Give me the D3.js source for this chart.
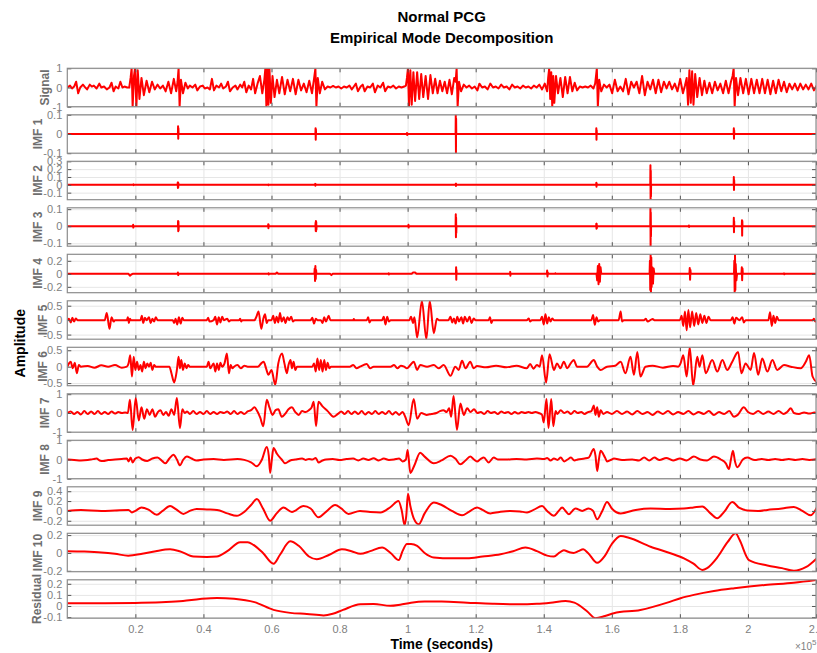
<!DOCTYPE html>
<html>
<head>
<meta charset="utf-8">
<script src="https://cdn.jsdelivr.net/npm/d3@7"></script>
<style>
  body { margin: 0; background: #fff; }
  svg { display: block; font-family: "Liberation Sans", Arial, Helvetica, sans-serif; }
</style>
</head>
<body>
<svg id="chart" width="817" height="653"></svg>
<script>
// time values are in units of 1e5 samples
const signalPts = [
  [0.000,0.0],[0.008,0.1],[0.014,-0.05],[0.020,0.05],[0.026,0.3],[0.032,-0.3],[0.038,0.0],[0.046,0.15],[0.052,0.02],[0.058,-0.1],
  [0.066,0.15],[0.072,0.05],[0.078,0.1],[0.086,-0.05],[0.094,0.2],[0.100,0.0],[0.108,0.05],[0.116,-0.1],[0.124,0.0],[0.130,0.25],
  [0.136,-0.2],[0.142,0.05],[0.150,-0.05],[0.156,0.3],[0.162,0.0],[0.168,0.05],[0.176,0.0],
  [0.182,0.0],[0.186,0.5],[0.189,1.0],[0.192,-1.0],[0.196,0.6],[0.199,1.0],[0.203,-1.0],[0.207,0.9],[0.212,-0.6],[0.218,0.5],[0.225,-0.4],
  [0.233,0.35],[0.241,-0.25],[0.249,0.3],[0.257,-0.1],[0.265,0.15],[0.273,-0.05],[0.281,0.1],[0.289,-0.2],[0.297,0.3],[0.305,-0.3],
  [0.313,0.45],[0.320,-0.2],
  [0.324,0.3],[0.327,1.0],[0.330,-1.0],[0.334,0.4],[0.340,-0.3],[0.347,0.25],[0.354,-0.05],[0.360,0.1],[0.368,0.0],[0.376,0.15],
  [0.382,-0.15],[0.390,0.05],[0.398,0.1],[0.404,-0.05],[0.412,0.0],[0.419,-0.1],[0.425,0.45],[0.431,-0.15],[0.438,0.1],[0.446,0.0],
  [0.452,0.2],[0.458,-0.05],[0.466,0.05],[0.472,0.3],[0.478,-0.2],[0.486,0.0],[0.494,0.1],[0.500,-0.1],[0.508,0.15],[0.514,0.0],
  [0.520,0.3],[0.526,-0.25],[0.533,0.1],[0.540,-0.1],[0.546,0.45],[0.552,-0.3],[0.559,0.2],[0.566,0.6],[0.573,-0.3],
  [0.579,0.4],[0.582,1.0],[0.585,-1.0],[0.588,1.0],[0.591,-0.9],[0.594,1.0],[0.598,-0.8],[0.603,0.6],[0.609,-0.5],[0.616,0.4],
  [0.623,-0.3],[0.631,0.55],[0.639,-0.35],[0.647,0.4],[0.655,-0.2],[0.663,0.45],[0.671,-0.35],[0.679,0.4],[0.687,-0.15],[0.695,0.2],
  [0.703,-0.25],[0.711,0.35],[0.719,-0.3],[0.725,0.45],
  [0.729,1.0],[0.732,-1.0],[0.736,0.5],[0.742,-0.3],[0.749,0.3],[0.757,-0.1],[0.765,0.05],[0.773,0.0],[0.781,0.08],[0.789,0.0],
  [0.797,0.05],[0.805,-0.05],[0.813,0.05],[0.821,0.0],[0.829,0.1],[0.836,-0.1],[0.842,0.05],[0.848,0.2],[0.854,-0.2],[0.862,0.05],
  [0.868,0.15],[0.874,-0.2],[0.882,0.05],[0.890,0.0],[0.898,0.2],[0.904,-0.25],[0.912,0.1],[0.920,0.0],[0.928,0.25],[0.934,-0.2],
  [0.942,0.05],[0.950,0.0],[0.958,0.1],[0.966,-0.05],[0.974,0.05],[0.982,0.0],[0.990,0.05],[0.995,0.1],
  [0.998,0.5],[1.001,1.0],[1.004,-1.0],[1.008,0.9],[1.012,-0.9],[1.017,0.8],[1.022,-0.7],[1.028,0.8],[1.034,-0.6],[1.040,0.7],
  [1.046,-0.5],[1.053,0.6],[1.060,-0.6],[1.067,0.65],[1.074,-0.3],[1.081,0.45],[1.088,-0.3],[1.095,0.35],[1.102,-0.2],[1.109,0.3],
  [1.116,-0.3],[1.123,0.4],[1.130,-0.35],[1.137,0.5],
  [1.141,0.3],[1.144,1.0],[1.147,-1.0],[1.151,0.3],[1.157,-0.2],[1.165,0.15],[1.173,0.0],[1.181,0.1],[1.189,-0.05],[1.197,0.05],
  [1.205,-0.15],[1.211,0.2],[1.219,0.0],[1.227,0.05],[1.235,-0.1],[1.243,0.2],[1.251,0.0],[1.259,0.05],[1.267,-0.05],[1.275,0.15],
  [1.283,0.0],[1.291,0.05],[1.299,-0.1],[1.307,0.15],[1.315,0.0],[1.323,0.05],[1.331,-0.05],[1.339,0.1],[1.347,0.0],[1.355,0.05],
  [1.363,-0.05],[1.371,0.1],[1.379,0.0],[1.387,0.15],[1.395,-0.1],[1.403,0.2],[1.410,-0.2],
  [1.413,0.5],[1.416,1.0],[1.419,-0.6],[1.422,0.8],[1.425,-1.0],[1.428,0.6],[1.431,-0.8],[1.436,0.6],[1.442,-0.3],[1.449,0.5],
  [1.456,-0.5],[1.463,0.55],[1.470,-0.3],[1.477,0.55],[1.484,-0.2],[1.491,0.25],[1.498,-0.15],[1.506,0.05],[1.514,0.0],[1.522,0.05],
  [1.530,0.0],[1.538,0.1],[1.546,-0.05],[1.551,0.2],
  [1.553,0.5],[1.556,1.0],[1.559,-1.0],[1.563,0.4],[1.569,-0.2],[1.577,0.15],[1.585,0.0],[1.593,0.15],[1.601,-0.3],[1.609,0.4],
  [1.617,-0.2],[1.625,0.05],[1.633,-0.2],[1.641,0.45],[1.649,-0.35],[1.657,0.3],[1.665,0.0],[1.673,0.3],[1.681,-0.3],[1.689,0.6],
  [1.697,-0.4],[1.705,0.3],[1.713,-0.1],[1.721,0.4],[1.729,-0.3],[1.737,0.4],[1.745,-0.25],[1.753,0.3],[1.761,-0.05],[1.769,0.3],
  [1.777,-0.1],[1.785,0.2],[1.793,-0.2],[1.801,0.45],[1.809,-0.3],[1.815,0.1],
  [1.820,0.5],[1.824,-0.9],[1.828,0.9],[1.832,-0.8],[1.836,0.85],[1.840,-0.9],[1.845,0.7],[1.851,-0.5],[1.858,0.5],[1.865,-0.4],
  [1.872,0.35],[1.879,-0.3],[1.887,0.25],[1.895,-0.3],[1.903,0.3],[1.911,-0.15],[1.919,0.2],[1.927,-0.3],[1.935,0.35],[1.943,-0.3],[1.950,0.3],
  [1.955,0.6],[1.958,1.0],[1.961,-1.0],[1.965,0.5],[1.971,-0.4],[1.978,0.5],[1.986,-0.3],[1.994,0.45],[2.002,-0.35],[2.010,0.45],
  [2.018,-0.3],[2.026,0.4],[2.034,-0.3],[2.042,0.45],[2.050,-0.3],[2.058,0.4],[2.066,-0.35],[2.074,0.35],[2.082,-0.3],[2.090,0.4],
  [2.098,-0.2],[2.106,0.3],[2.114,-0.25],[2.122,0.2],[2.130,-0.1],[2.138,0.2],[2.146,-0.15],[2.154,0.2],[2.162,-0.1],[2.170,0.15],
  [2.178,-0.1],[2.186,0.2],[2.194,-0.15],[2.202,0.1],[2.205,0.05]
];

const imf1Pts = [
  [0,0],[0.325,0],[0.3255,0.04],[0.326,-0.025],[0.3265,0.03],[0.327,0],
  [0.729,0],[0.7295,0.03],[0.730,-0.03],[0.7305,0.025],[0.731,0],
  [0.997,0],[0.998,0.005],[0.999,-0.005],[1.0,0],
  [1.141,0],[1.1415,0.1],[1.142,-0.1],[1.1425,0.08],[1.143,0],
  [1.554,0],[1.5545,0.03],[1.555,-0.03],[1.5555,0.02],[1.556,0],
  [1.958,0],[1.9585,0.03],[1.959,-0.025],[1.9595,0.02],[1.96,0],[2.205,0]
];

const imf2Pts = [
  [0,0],[0.193,0],[0.194,0.006],[0.195,-0.004],[0.196,0],
  [0.324,0],[0.3245,0.03],[0.325,-0.04],[0.3255,0.03],[0.326,-0.035],[0.3265,0.02],[0.327,0],
  [0.59,0],[0.5905,0.005],[0.591,-0.005],[0.5915,0],
  [0.728,0],[0.7285,0.012],[0.729,-0.012],[0.7295,0.01],[0.730,0],
  [1.141,0],[1.1415,0.015],[1.142,-0.015],[1.1425,0.012],[1.143,0],
  [1.554,0],[1.5545,0.025],[1.555,-0.025],[1.5555,0.02],[1.556,0],
  [1.713,0],[1.7135,0.25],[1.714,-0.2],[1.7145,0.18],[1.715,-0.15],[1.7155,0],
  [1.958,0],[1.9585,0.1],[1.959,-0.065],[1.9595,0.06],[1.96,0],[2.205,0]
];

const imf3Pts = [
  [0,0],[0.193,0],[0.1935,0.008],[0.194,-0.008],[0.1945,0],
  [0.325,0],[0.3255,0.03],[0.326,-0.03],[0.3265,0.028],[0.327,-0.025],[0.3275,0],
  [0.59,0],[0.5905,0.012],[0.591,-0.012],[0.5915,0.01],[0.592,0],
  [0.729,0],[0.7295,0.02],[0.730,-0.028],[0.7305,0.03],[0.731,-0.03],[0.7315,0.025],[0.732,-0.02],[0.7325,0],
  [1.002,0],[1.0025,0.008],[1.003,-0.008],[1.0035,0],
  [1.141,0],[1.1415,0.07],[1.142,-0.065],[1.1425,0.05],[1.143,-0.04],[1.1435,0],
  [1.554,0],[1.5545,0.015],[1.555,-0.015],[1.5555,0.014],[1.556,-0.012],[1.5565,0],
  [1.713,0],[1.7135,0.108],[1.714,-0.117],[1.7145,0.08],[1.715,-0.06],[1.7155,0],
  [1.826,0],[1.8265,0.004],[1.827,-0.004],[1.8275,0],
  [1.958,0],[1.9585,0.05],[1.959,-0.035],[1.9595,0.03],[1.96,0],
  [1.982,0],[1.9825,0.035],[1.983,-0.055],[1.9835,0.03],[1.984,0],[2.205,0]
];

const imf4Pts = [
  [0,0],[0.18,0],[0.184,-0.03],[0.188,-0.01],[0.192,0],
  [0.324,0],[0.325,0.02],[0.326,-0.02],[0.327,0],
  [0.59,0],[0.591,0.01],[0.592,-0.01],[0.593,0],[0.612,0],[0.616,0.02],[0.62,0],
  [0.726,0],[0.727,0.08],[0.728,-0.11],[0.729,0.12],[0.730,-0.08],[0.731,0.06],[0.732,0],
  [0.772,0],[0.776,-0.02],[0.78,0],[0.943,0],[0.944,0.01],[0.945,-0.01],[0.946,0],
  [1.012,0],[1.016,0.02],[1.022,0.02],[1.026,0],
  [1.142,0],[1.1425,0.1],[1.143,-0.09],[1.1435,0.06],[1.144,0],
  [1.301,0],[1.3015,0.03],[1.302,-0.03],[1.3025,0],
  [1.409,0],[1.41,0.05],[1.411,-0.04],[1.412,0.02],[1.413,0],[1.433,0],[1.434,0.01],[1.435,0],
  [1.555,0],[1.557,-0.1],[1.559,0.12],[1.561,-0.16],[1.563,0.15],[1.565,-0.12],[1.567,0.1],[1.569,0],
  [1.711,0],[1.712,0.2],[1.713,-0.25],[1.714,0.29],[1.715,-0.29],[1.716,0.25],[1.717,-0.2],[1.719,0.1],[1.721,-0.15],[1.723,0.08],[1.725,0],
  [1.828,0],[1.829,0.09],[1.830,-0.09],[1.831,0.06],[1.832,0],
  [1.959,0],[1.960,0.2],[1.961,-0.29],[1.962,0.3],[1.963,-0.25],[1.964,0.15],[1.966,-0.1],[1.968,0],
  [1.981,0],[1.982,0.1],[1.983,-0.1],[1.984,0.08],[1.985,0],
  [2.105,0],[2.106,0.008],[2.107,-0.008],[2.108,0],[2.2,0],[2.205,-0.02]
];

const imf5Pts = [
  [0,0],[0.005,0.05],[0.01,-0.08],[0.015,0.08],[0.02,-0.05],[0.025,0.06],[0.03,0],[0.11,0],[0.116,0.25],[0.124,-0.3],[0.13,0.1],[0.136,-0.05],[0.14,0],
  [0.175,0],[0.178,0.1],[0.181,-0.1],[0.184,0.05],[0.187,0],[0.215,0],[0.219,0.15],[0.223,-0.1],[0.228,0.08],[0.233,0],[0.24,0.1],[0.245,-0.1],
  [0.25,0.05],[0.255,-0.05],[0.26,0.1],[0.265,0],[0.31,0],[0.314,-0.1],[0.318,0.05],[0.323,-0.15],[0.328,0.1],[0.333,-0.12],[0.338,0.08],[0.342,0],
  [0.41,0],[0.414,0.08],[0.418,-0.05],[0.43,0],[0.435,0.12],[0.44,-0.15],[0.445,0.1],[0.45,-0.08],[0.455,0.12],[0.46,0],[0.47,0.05],[0.475,-0.05],[0.48,0],
  [0.505,0],[0.508,0.05],[0.511,-0.05],[0.514,0],[0.55,0],[0.555,0.1],[0.562,0.3],[0.57,-0.3],[0.576,0.05],[0.581,0.2],[0.586,-0.1],[0.59,0],
  [0.6,0],[0.605,0.15],[0.61,-0.1],[0.615,0.12],[0.62,-0.08],[0.625,0.25],[0.63,-0.05],[0.636,0.1],[0.641,-0.1],[0.647,0.1],[0.652,0],[0.658,0.12],[0.663,-0.05],[0.668,0],
  [0.715,0],[0.72,0.08],[0.725,-0.12],[0.73,0.05],[0.735,0],[0.745,0],[0.75,-0.1],[0.755,0.1],[0.76,-0.05],[0.768,0.15],[0.773,0],
  [0.84,0],[0.842,0.04],[0.844,0],[0.88,0],[0.884,0.1],[0.888,-0.08],[0.892,0],[0.925,0],[0.93,0.12],[0.935,-0.15],[0.94,0.12],[0.945,-0.05],[0.95,0],
  [1.005,0],[1.01,0.12],[1.016,-0.1],[1.02,0.1],[1.028,-0.6],[1.042,0.67],[1.055,-0.66],[1.065,0.67],[1.077,-0.45],[1.086,0.05],[1.092,0],
  [1.12,0],[1.126,0.12],[1.131,-0.08],[1.136,0.06],[1.141,-0.12],[1.146,0.12],[1.151,-0.05],[1.158,0.1],[1.163,-0.12],[1.168,0.12],[1.175,-0.05],
  [1.182,0.12],[1.188,-0.1],[1.194,0.06],[1.2,0],[1.238,0],[1.242,0.1],[1.246,-0.1],[1.25,0],[1.35,0],[1.356,0.06],[1.36,-0.05],[1.365,0],
  [1.39,0],[1.395,0.12],[1.4,-0.15],[1.405,0.2],[1.41,-0.12],[1.415,0.1],[1.42,-0.05],[1.425,0.06],[1.43,0],
  [1.54,0],[1.545,0.18],[1.55,-0.16],[1.555,0.1],[1.56,-0.05],[1.565,0],[1.62,0],[1.626,0.3],[1.63,-0.05],[1.635,0],
  [1.695,0],[1.7,0.05],[1.705,-0.05],[1.72,0.04],[1.725,0],
  [1.8,0],[1.805,0.15],[1.81,-0.2],[1.815,0.3],[1.82,-0.35],[1.825,0.35],[1.83,-0.25],[1.836,0.3],[1.842,-0.2],[1.848,0.25],[1.854,-0.15],
  [1.86,0.2],[1.866,-0.1],[1.872,0.15],[1.878,-0.1],[1.884,0.12],[1.89,0],
  [1.95,0],[1.955,0.1],[1.96,-0.12],[1.965,0.08],[1.975,0],[1.983,0.1],[1.988,-0.08],[1.993,0],
  [2.06,0],[2.065,0.27],[2.07,-0.2],[2.075,0.15],[2.08,-0.1],[2.085,0.12],[2.09,0],[2.19,0],[2.194,0.05],[2.198,-0.05],[2.205,0]
];

const imf6Pts = [
  [0,0],[0.005,0.1],[0.01,0.15],[0.016,-0.05],[0.022,0.12],[0.028,-0.2],[0.034,0.05],[0.04,0],[0.06,0.02],[0.08,-0.03],[0.1,0.04],[0.12,0],
  [0.14,0.05],[0.16,-0.03],[0.175,0],[0.18,0.1],[0.185,0.35],[0.19,-0.3],[0.195,0.3],[0.2,-0.1],[0.205,0.15],[0.21,-0.1],[0.215,0.05],
  [0.22,-0.15],[0.225,0.15],[0.23,-0.05],[0.235,0.1],[0.24,0],[0.245,0.12],[0.25,-0.1],[0.255,0.05],[0.26,0],
  [0.3,0],[0.306,-0.2],[0.314,-0.48],[0.322,-0.1],[0.327,0.3],[0.331,-0.05],[0.335,0.2],[0.34,-0.1],[0.345,0.1],[0.35,-0.05],[0.355,0.05],[0.36,0],
  [0.41,0],[0.415,0.15],[0.42,-0.05],[0.43,0.1],[0.435,-0.15],[0.44,0.1],[0.445,-0.1],[0.45,0.12],[0.455,0],[0.462,0.1],[0.469,0.4],[0.475,-0.2],
  [0.48,0.05],[0.485,-0.05],[0.49,0],[0.5,0.05],[0.51,-0.05],[0.52,0.03],[0.53,0],
  [0.56,0],[0.57,0.1],[0.577,0.15],[0.584,-0.05],[0.591,-0.25],[0.6,-0.1],[0.611,-0.55],[0.62,0.1],[0.631,0.4],[0.638,0.1],[0.645,-0.2],
  [0.65,0.05],[0.656,0.2],[0.66,-0.05],[0.665,0.15],[0.67,-0.1],[0.675,0],
  [0.72,0],[0.725,0.1],[0.73,-0.15],[0.735,0.25],[0.74,-0.1],[0.745,0.2],[0.75,-0.15],[0.755,0.2],[0.76,-0.1],[0.765,0.12],[0.77,-0.05],[0.775,0],
  [0.83,0],[0.84,0.05],[0.85,-0.05],[0.86,0],[0.88,0.08],[0.89,-0.05],[0.9,0],[0.95,0],[0.96,0.05],[0.97,-0.05],[0.98,0.03],[0.99,0],
  [0.998,-0.05],[1.008,0.05],[1.018,0.15],[1.028,-0.1],[1.037,0.05],[1.057,0],[1.077,0.05],[1.091,-0.05],[1.106,0.05],[1.126,-0.28],
  [1.14,0],[1.15,-0.1],[1.16,0.18],[1.17,-0.05],[1.184,0.15],[1.194,-0.05],[1.204,0.02],[1.23,-0.02],[1.26,0.03],[1.29,-0.02],[1.32,0.03],
  [1.35,-0.05],[1.36,0.08],[1.37,-0.06],[1.38,0.05],[1.388,0],
  [1.395,0.35],[1.407,-0.48],[1.417,0.38],[1.43,-0.1],[1.439,0.1],[1.449,-0.05],[1.459,0.15],[1.469,-0.05],[1.479,0.1],[1.488,0.2],[1.498,0],
  [1.527,0],[1.547,0.2],[1.557,0],[1.567,-0.1],[1.586,0],[1.61,0.03],[1.626,0.15],[1.64,-0.2],[1.655,0.3],[1.665,-0.25],[1.675,0.45],
  [1.684,-0.3],[1.699,0],[1.72,0.03],[1.75,-0.03],[1.78,0.02],[1.795,0],
  [1.802,0.1],[1.81,0.35],[1.82,-0.3],[1.829,0.59],[1.839,-0.58],[1.851,0.3],[1.858,0.0],[1.866,0.35],[1.876,-0.2],[1.895,0.2],[1.91,-0.15],
  [1.925,0.2],[1.939,-0.1],[1.954,0.15],[1.971,0.45],[1.981,-0.2],[1.993,0.1],[2.008,-0.1],[2.018,0.42],[2.03,-0.25],[2.042,0.25],
  [2.057,-0.15],[2.072,0.2],[2.086,-0.1],[2.106,0.05],[2.126,0],[2.155,-0.05],[2.17,0.15],[2.18,0.35],[2.19,-0.3],[2.205,-0.5]
];

const imf7Pts = [
  [0,0],[0.01,0.08],[0.02,-0.05],[0.03,0.05],[0.04,-0.08],[0.05,0.1],[0.06,-0.05],[0.07,0.08],[0.08,-0.05],[0.09,0.1],[0.1,-0.05],
  [0.11,0.05],[0.12,-0.05],[0.13,0.08],[0.14,-0.03],[0.15,0.05],[0.16,0],[0.17,0.02],[0.178,0],
  [0.184,0.7],[0.192,-0.9],[0.201,0.8],[0.21,-0.4],[0.218,0.3],[0.226,-0.3],[0.234,0.2],[0.242,-0.1],[0.25,0.2],[0.258,-0.2],[0.266,0.05],
  [0.274,0.15],[0.282,-0.1],[0.29,0.05],[0.298,-0.15],[0.306,0.2],[0.314,-0.1],[0.322,0.8],[0.331,-0.8],[0.338,0.2],[0.345,0],
  [0.352,0.08],[0.36,-0.05],[0.37,0.1],[0.38,-0.05],[0.39,0.05],[0.4,-0.05],[0.41,0.1],[0.42,-0.05],[0.43,0.05],[0.44,-0.05],[0.45,0.05],
  [0.46,0],[0.47,0.08],[0.48,-0.05],[0.49,0.1],[0.5,-0.05],[0.51,0.05],[0.52,-0.05],[0.53,0.08],[0.54,0.15],[0.55,0.3],[0.558,0.1],
  [0.567,-0.25],[0.576,-0.7],[0.586,0.7],[0.594,0.3],[0.603,-0.1],[0.612,0.15],[0.62,0.2],[0.63,-0.2],[0.64,-0.05],[0.65,0.2],[0.66,0.3],
  [0.67,0.05],[0.68,-0.1],[0.69,0.1],[0.7,0.05],[0.71,0.15],[0.718,0.3],[0.724,0.6],[0.731,-0.7],[0.738,0.6],[0.75,0.35],[0.765,0.1],
  [0.782,-0.2],[0.795,-0.05],[0.805,0.08],[0.815,-0.05],[0.825,0.1],[0.835,-0.05],[0.845,0.08],[0.855,-0.05],[0.865,0.1],[0.875,-0.08],
  [0.885,0.05],[0.895,-0.05],[0.905,0.1],[0.915,-0.05],[0.925,0.05],[0.935,-0.05],[0.945,0.1],[0.955,-0.08],[0.965,0.05],[0.975,-0.1],
  [0.985,0.05],[0.993,-0.2],[1.003,-0.65],[1.018,0.75],[1.028,-0.3],[1.04,0.0],[1.055,-0.1],[1.07,-0.05],[1.085,0.0],[1.095,0.1],
  [1.105,0.15],[1.115,0.05],[1.122,0.25],[1.128,-0.2],[1.135,0.9],[1.145,-0.9],[1.155,0.5],[1.165,-0.1],[1.175,0.25],[1.185,0.05],
  [1.195,0.2],[1.205,0.0],[1.215,0.05],[1.225,-0.05],[1.235,0.1],[1.245,0.0],[1.255,0.05],[1.265,-0.05],[1.275,0.08],[1.285,0.0],
  [1.295,0.05],[1.305,-0.05],[1.315,0.05],[1.325,-0.03],[1.335,0.05],[1.345,0.0],[1.355,0.05],[1.365,0.0],[1.375,0.05],[1.385,0.0],
  [1.395,-0.1],[1.4,-0.5],[1.408,0.75],[1.414,-0.8],[1.422,0.75],[1.428,-0.7],[1.435,0.1],[1.44,-0.05],[1.45,0.15],[1.46,0.0],
  [1.47,0.08],[1.48,-0.05],[1.49,0.1],[1.5,0.0],[1.51,0.05],[1.52,-0.05],[1.53,0.05],[1.54,0.1],[1.547,0.4],[1.552,-0.1],[1.557,0.3],
  [1.562,-0.2],[1.567,0.15],[1.575,-0.05],[1.586,0.05],[1.6,-0.05],[1.615,0.1],[1.63,-0.05],[1.645,0.08],[1.66,-0.08],[1.675,0.1],
  [1.69,-0.05],[1.705,0.05],[1.72,-0.1],[1.735,0.08],[1.75,-0.05],[1.765,0.1],[1.78,-0.08],[1.795,0.05],[1.81,-0.05],[1.825,0.1],
  [1.84,-0.08],[1.855,0.05],[1.87,-0.05],[1.885,0.1],[1.9,-0.1],[1.915,0.05],[1.93,-0.05],[1.945,0.1],[1.959,-0.2],[1.97,-0.1],
  [1.988,0.3],[2.0,0.05],[2.015,-0.05],[2.03,0.1],[2.045,-0.05],[2.06,0.08],[2.075,-0.05],[2.09,0.1],[2.105,-0.05],[2.115,0.05],
  [2.126,0.25],[2.135,0.0],[2.15,-0.05],[2.165,0.03],[2.18,-0.03],[2.195,0.02],[2.205,0.0]
];

const imf8Pts = [
  [0,0.0],[0.02,-0.02],[0.04,-0.05],[0.06,-0.03],[0.075,0.02],[0.086,0.05],[0.095,-0.05],[0.105,-0.08],[0.12,-0.03],[0.14,0.0],[0.16,0.03],
  [0.175,0.05],[0.18,-0.1],[0.186,0.1],[0.192,-0.15],[0.2,0.05],[0.21,0.12],[0.22,0.0],[0.235,-0.08],[0.25,0.05],[0.265,0.1],[0.28,-0.1],
  [0.288,-0.2],[0.3,0.05],[0.312,0.25],[0.322,0.0],[0.331,-0.3],[0.341,0.0],[0.351,0.15],[0.365,0.05],[0.38,-0.05],[0.4,0.0],[0.43,0.02],
  [0.46,-0.02],[0.5,0.03],[0.52,-0.02],[0.54,-0.15],[0.557,-0.35],[0.572,0.0],[0.586,0.65],[0.592,0.2],[0.596,-0.7],[0.601,0.0],[0.606,0.6],
  [0.616,0.3],[0.63,0.0],[0.64,-0.2],[0.655,-0.05],[0.67,0.0],[0.69,0.05],[0.7,-0.02],[0.71,0.03],[0.72,0.0],[0.73,0.08],[0.738,-0.15],
  [0.75,-0.05],[0.76,0.0],[0.78,0.02],[0.8,-0.03],[0.82,0.02],[0.84,0.05],[0.855,-0.05],[0.87,0.05],[0.885,-0.02],[0.9,0.06],[0.915,-0.05],
  [0.93,0.05],[0.945,-0.02],[0.96,0.0],[0.975,0.05],[0.985,-0.1],[0.995,0.0],[1.0,0.5],[1.008,-0.7],[1.02,-0.3],[1.037,0.35],[1.05,0.15],
  [1.077,-0.2],[1.1,-0.05],[1.126,0.2],[1.14,0.05],[1.155,-0.25],[1.17,-0.05],[1.184,0.15],[1.195,0.0],[1.204,-0.1],[1.214,0.02],[1.224,0.1],
  [1.238,-0.15],[1.253,0.1],[1.265,0.0],[1.29,0.0],[1.32,0.03],[1.35,0.0],[1.38,0.05],[1.4,0.02],[1.41,0.08],[1.42,-0.05],[1.43,0.05],
  [1.44,-0.02],[1.45,0.1],[1.46,-0.1],[1.47,0.0],[1.48,0.1],[1.49,-0.05],[1.5,0.0],[1.52,0.05],[1.532,0.1],[1.547,0.55],[1.552,0.2],
  [1.557,-0.6],[1.562,0.0],[1.567,0.45],[1.58,0.1],[1.586,-0.1],[1.6,0.0],[1.606,0.05],[1.63,-0.03],[1.66,0.0],[1.68,-0.05],[1.695,0.1],
  [1.71,-0.05],[1.725,0.1],[1.74,-0.03],[1.76,0.08],[1.78,-0.05],[1.8,0.05],[1.82,-0.05],[1.841,0.15],[1.86,0.0],[1.88,-0.05],[1.9,0.15],
  [1.92,0.0],[1.935,-0.2],[1.944,-0.5],[1.95,0.0],[1.956,0.45],[1.962,-0.1],[1.969,-0.4],[1.985,0.0],[1.998,0.1],[2.02,-0.03],[2.04,0.03],
  [2.06,-0.02],[2.08,0.03],[2.1,-0.02],[2.12,0.03],[2.14,-0.02],[2.16,0.02],[2.18,-0.02],[2.205,0.02]
];

const imf9Pts = [
  [0,0.0],[0.04,0.02],[0.1,0.0],[0.14,0.01],[0.18,0.02],[0.19,-0.03],[0.2,0.0],[0.218,0.07],[0.24,0.02],[0.263,-0.08],[0.28,0.0],
  [0.302,0.1],[0.32,0.03],[0.341,-0.06],[0.36,0.0],[0.38,0.04],[0.41,0.03],[0.44,0.02],[0.47,-0.05],[0.498,-0.1],[0.52,-0.02],[0.54,0.12],
  [0.557,0.24],[0.575,0.05],[0.596,-0.2],[0.615,-0.05],[0.635,0.07],[0.66,-0.02],[0.694,0.1],[0.715,0.05],[0.738,-0.13],[0.76,-0.02],
  [0.787,0.12],[0.805,0.05],[0.826,-0.06],[0.86,0.0],[0.89,-0.02],[0.92,-0.03],[0.95,0.08],[0.973,0.2],[0.983,0.0],[0.991,-0.29],
  [0.996,-0.1],[1.001,0.35],[1.008,0.1],[1.018,-0.15],[1.033,-0.27],[1.05,-0.05],[1.077,0.17],[1.1,0.12],[1.13,0.0],[1.16,-0.09],
  [1.18,-0.02],[1.204,0.07],[1.22,0.02],[1.243,-0.05],[1.27,-0.02],[1.302,0.0],[1.33,-0.01],[1.351,-0.03],[1.37,0.02],[1.395,0.1],
  [1.41,0.0],[1.43,-0.1],[1.444,0.0],[1.454,0.07],[1.464,0.0],[1.474,-0.07],[1.484,0.0],[1.493,0.05],[1.513,0.0],[1.532,0.05],[1.545,0.0],
  [1.557,-0.17],[1.572,0.0],[1.586,0.18],[1.6,0.05],[1.626,-0.05],[1.67,0.02],[1.714,0.05],[1.77,0.04],[1.812,0.05],[1.84,0.07],
  [1.866,0.09],[1.89,-0.05],[1.91,-0.15],[1.93,-0.02],[1.954,0.18],[1.975,0.06],[1.998,0.01],[2.03,0.0],[2.057,0.02],[2.1,0.05],
  [2.135,0.08],[2.16,0.0],[2.184,-0.09],[2.205,0.1]
];

const imf10Pts = [
  [0,0.02],[0.05,0.015],[0.1,0.005],[0.14,-0.01],[0.179,-0.03],[0.22,-0.01],[0.26,0.02],[0.302,0.04],[0.33,0.02],[0.371,-0.04],[0.41,-0.045],
  [0.439,-0.04],[0.47,0.02],[0.508,0.12],[0.53,0.12],[0.547,0.09],[0.575,0.0],[0.606,-0.12],[0.625,-0.02],[0.655,0.13],[0.68,0.08],
  [0.71,-0.04],[0.733,-0.07],[0.77,-0.02],[0.807,0.04],[0.835,0.02],[0.861,-0.01],[0.89,0.02],[0.925,0.06],[0.95,0.0],[0.974,-0.08],
  [0.985,0.02],[0.998,0.1],[1.01,0.1],[1.028,0.08],[1.05,0.0],[1.077,-0.05],[1.13,-0.06],[1.175,-0.06],[1.22,-0.04],[1.273,-0.015],
  [1.31,0.02],[1.346,0.06],[1.38,0.02],[1.41,-0.03],[1.43,-0.04],[1.445,0.0],[1.459,0.03],[1.474,0.01],[1.488,0.0],[1.502,0.02],
  [1.516,0.04],[1.53,0.0],[1.557,-0.11],[1.58,-0.03],[1.6,0.1],[1.626,0.19],[1.65,0.17],[1.714,0.07],[1.77,0.0],[1.812,-0.06],
  [1.84,-0.12],[1.866,-0.19],[1.88,-0.17],[1.91,-0.05],[1.94,0.12],[1.964,0.22],[1.975,0.15],[2.003,-0.08],[2.057,-0.14],[2.1,-0.17],
  [2.135,-0.2],[2.17,-0.16],[2.205,-0.05]
];

const residualPts = [
  [0,0.024],[0.1,0.025],[0.2,0.028],[0.29,0.035],[0.34,0.045],[0.39,0.063],[0.44,0.073],[0.49,0.066],[0.55,0.035],[0.606,-0.035],
  [0.655,-0.062],[0.704,-0.072],[0.753,-0.085],[0.78,-0.07],[0.81,-0.035],[0.861,0.015],[0.9,0.018],[0.949,0.002],[0.978,0.012],
  [1.01,0.03],[1.05,0.04],[1.1,0.04],[1.175,0.03],[1.25,0.02],[1.322,0.015],[1.38,0.02],[1.42,0.03],[1.464,0.045],[1.49,0.03],
  [1.528,-0.05],[1.552,-0.11],[1.58,-0.09],[1.606,-0.065],[1.684,-0.036],[1.763,0.03],[1.802,0.07],[1.841,0.1],[1.9,0.135],
  [1.96,0.16],[2.05,0.19],[2.135,0.21],[2.205,0.236]
];

const panelNames = ['Signal', 'IMF 1', 'IMF 2', 'IMF 3', 'IMF 4', 'IMF 5', 'IMF 6', 'IMF 7', 'IMF 8', 'IMF 9', 'IMF 10', 'Residual'];
const yDomains = [[-1, 1], [-0.1, 0.1], [-0.19, 0.3], [-0.117, 0.108], [-0.29, 0.3], [-0.66, 0.67],
                  [-0.58, 0.59], [-1.02, 1.02], [-1, 1], [-0.29, 0.49], [-0.21, 0.22], [-0.11, 0.236]];
const yTicks = [[-1, 0, 1], [-0.1, 0, 0.1], [-0.1, 0, 0.1, 0.2, 0.3], [-0.1, 0, 0.1], [-0.2, 0, 0.2], [-0.5, 0, 0.5],
                [-0.5, 0, 0.5], [-1, 0, 1], [-1, 0, 1], [-0.2, 0, 0.2, 0.4], [-0.2, 0, 0.2], [-0.1, 0, 0.1, 0.2]];
const xTicks = [0.2, 0.4, 0.6, 0.8, 1, 1.2, 1.4, 1.6, 1.8, 2, 2.2];
const xDomain = [0, 2.2];
const series = [signalPts, imf1Pts, imf2Pts, imf3Pts, imf4Pts, imf5Pts, imf6Pts, imf7Pts, imf8Pts, imf9Pts, imf10Pts, residualPts];

// layout
const svg = d3.select('#chart');
const left = 67.3, right = 816, top0 = 68.3, pitch = 46.5, panelH = 38.4;
const innerW = right - left;
const smoothFrom = 5;                      // panels from IMF 5 down get a smooth curve
const labelCx = [45, 38, 38, 38, 38, 43, 43, 45, 45, 38, 38, 37];   // centre of each rotated panel label

const x = d3.scaleLinear().domain(xDomain).range([0, innerW]);
const defs = svg.append('defs');

series.forEach((pts, i) => {
  const top = top0 + i * pitch;
  const y = d3.scaleLinear().domain(yDomains[i]).range([panelH, 0]);
  const g = svg.append('g').attr('transform', `translate(${left},${top})`);

  g.append('rect').attr('width', innerW).attr('height', panelH).attr('fill', '#fff');

  // grid
  g.append('g')
    .call(d3.axisLeft(y).tickValues(yTicks[i]).tickSize(-innerW).tickFormat(''))
    .call(a => a.select('.domain').remove())
    .selectAll('line').attr('stroke', '#e6e6e6');
  g.append('g')
    .attr('transform', `translate(0,${panelH})`)
    .call(d3.axisBottom(x).tickValues(xTicks).tickSize(-panelH).tickFormat(''))
    .call(a => a.select('.domain').remove())
    .selectAll('line').attr('stroke', '#e6e6e6');

  const clipId = 'clip' + i;
  defs.append('clipPath').attr('id', clipId)
    .append('rect').attr('width', innerW).attr('height', panelH);

  const line = d3.line()
    .x(d => x(d[0]))
    .y(d => y(d[1]))
    .curve(i >= smoothFrom ? d3.curveMonotoneX : d3.curveLinear);

  g.append('path')
    .datum(pts)
    .attr('clip-path', `url(#${clipId})`)
    .attr('fill', 'none')
    .attr('stroke', '#ff0000')
    .attr('stroke-width', 2)
    .attr('stroke-linejoin', 'round')
    .attr('d', line);

  // tick marks point inward on all four sides
  const tickStyle = a => {
    a.select('.domain').remove();
    a.selectAll('line').attr('stroke', '#555');
    a.selectAll('text').attr('fill', '#808080').style('font-size', '11px');
  };
  g.append('g').call(d3.axisTop(x).tickValues(xTicks).tickSizeInner(-4).tickSizeOuter(0).tickFormat('')).call(tickStyle);
  g.append('g').attr('transform', `translate(0,${panelH})`)
    .call(d3.axisBottom(x).tickValues(xTicks).tickSizeInner(-4).tickSizeOuter(0)
      .tickPadding(7).tickFormat(i === series.length - 1 ? (d => String(d)) : ''))
    .call(tickStyle);
  g.append('g').attr('transform', `translate(${innerW},0)`)
    .call(d3.axisRight(y).tickValues(yTicks[i]).tickSizeInner(-4).tickSizeOuter(0).tickFormat(''))
    .call(tickStyle);
  g.append('g')
    .call(d3.axisLeft(y).tickValues(yTicks[i]).tickSizeInner(-4).tickSizeOuter(0).tickPadding(5).tickFormat(d => String(d)))
    .call(tickStyle);

  g.append('rect').attr('width', innerW).attr('height', panelH)
    .attr('fill', 'none').attr('stroke', '#8c8c8c').attr('stroke-width', 1.2);

  svg.append('text')
    .attr('transform', `translate(${labelCx[i]},${top + panelH / 2}) rotate(-90)`)
    .attr('text-anchor', 'middle')
    .attr('dominant-baseline', 'central')
    .attr('fill', '#6e6e6e')
    .style('font-size', '12px')
    .style('font-weight', 'bold')
    .text(panelNames[i]);
});

// titles and axis names
svg.append('text').attr('x', left + innerW / 2).attr('y', 22).attr('text-anchor', 'middle')
  .style('font-size', '15px').style('font-weight', 'bold').text('Normal PCG');
svg.append('text').attr('x', left + innerW / 2).attr('y', 43).attr('text-anchor', 'middle')
  .style('font-size', '15px').style('font-weight', 'bold').text('Empirical Mode Decomposition');

svg.append('text').attr('x', left + innerW / 2).attr('y', 649).attr('text-anchor', 'middle')
  .style('font-size', '14px').style('font-weight', 'bold').text('Time (seconds)');

const bottom = top0 + (series.length - 1) * pitch + panelH;
svg.append('text')
  .attr('transform', `translate(20,${(top0 + bottom) / 2}) rotate(-90)`)
  .attr('text-anchor', 'middle')
  .attr('dominant-baseline', 'central')
  .style('font-size', '14px').style('font-weight', 'bold').text('Amplitude');

const expo = svg.append('text').attr('x', 795).attr('y', 650).attr('fill', '#808080').style('font-size', '10px');
expo.append('tspan').text('\u00d710');
expo.append('tspan').attr('dy', -5).style('font-size', '8px').text('5');
</script>
</body>
</html>
